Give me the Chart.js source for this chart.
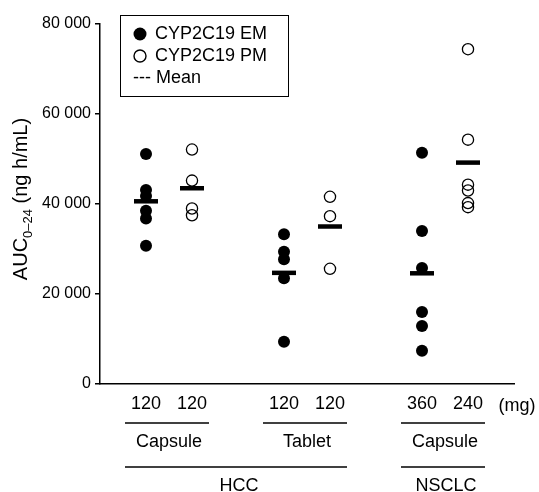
<!DOCTYPE html>
<html>
<head>
<meta charset="utf-8">
<script src="https://cdn.jsdelivr.net/npm/chart.js@4.4.1/dist/chart.umd.min.js"></script>
<style>
    html, body { margin: 0; padding: 0; background: #fff; }
    #wrap { width: 539px; height: 492px; }
</style>
</head>
<body>
<div id="wrap"><canvas id="auc" width="539" height="492"></canvas></div>
<script>
// x positions of the six dose columns (gaps between formulation groups)
const columnPositions = [1, 2, 4, 5, 7, 8];
const doseLabels = ['120', '120', '120', '120', '360', '240'];
const formulationLabels = ['Capsule', 'Tablet', 'Capsule'];
const tumorLabels = ['HCC', 'NSCLC'];
const yTicks = [0, 20000, 40000, 60000, 80000];

// CYP2C19 EM (filled), per column 1, 3, 5
const emHccCapsule = [51100, 43100, 41800, 38500, 36800, 30700];
const emHccTablet = [33300, 29400, 27700, 23500, 9400];
const emNsclcCapsule = [51400, 34000, 25800, 16000, 12900, 7400];

// CYP2C19 PM (open), per column 2, 4, 6
const pmHccCapsule = [52100, 45200, 39000, 37500];
const pmHccTablet = [41600, 37300, 25600];
const pmNsclcCapsule = [74400, 54300, 44300, 43000, 40200, 39300];

// mean bars, one per column
const meanValues = [40600, 43500, 24700, 35000, 24600, 49200];

const FONT = '"Liberation Sans", Arial, Helvetica, sans-serif';

function spaced(v) {
    return String(v).replace(/\B(?=(\d{3})+(?!\d))/g, ' ');
}

function toPoints(x, values) {
    return values.map(v => ({ x: x, y: v }));
}

const emPoints = [
    ...toPoints(columnPositions[0], emHccCapsule),
    ...toPoints(columnPositions[2], emHccTablet),
    ...toPoints(columnPositions[4], emNsclcCapsule)
];
const pmPoints = [
    ...toPoints(columnPositions[1], pmHccCapsule),
    ...toPoints(columnPositions[3], pmHccTablet),
    ...toPoints(columnPositions[5], pmNsclcCapsule)
];
const meanPoints = meanValues.map((v, i) => ({ x: columnPositions[i], y: v }));

// boxed legend in the upper left of the plot
const boxLegend = {
    id: 'boxLegend',
    afterDraw(chart) {
        const ctx = chart.ctx;
        const ds = chart.data.datasets;
        ctx.save();
        ctx.strokeStyle = '#000';
        ctx.lineWidth = 1;
        ctx.strokeRect(120.5, 15.5, 168, 81);
        ctx.font = '18px ' + FONT;
        ctx.fillStyle = '#000';
        ctx.textBaseline = 'middle';
        ctx.textAlign = 'left';

        ctx.beginPath();
        ctx.arc(140, 34, 6.5, 0, Math.PI * 2);
        ctx.fill();
        ctx.fillText(ds[0].label, 155, 34);

        ctx.beginPath();
        ctx.lineWidth = 1.4;
        ctx.arc(140, 56, 6, 0, Math.PI * 2);
        ctx.stroke();
        ctx.fillText(ds[1].label, 155, 56);

        ctx.fillText('--- ' + ds[2].label, 133, 78);
        ctx.restore();
    }
};

// y title with subscript
const yTitle = {
    id: 'yTitle',
    afterDraw(chart) {
        const ctx = chart.ctx;
        const big = '20px ' + FONT;
        const small = '13px ' + FONT;
        const parts = [['AUC', big, 0], ['0\u201324', small, 5], [' (ng h/mL)', big, 0]];
        ctx.save();
        let total = 0;
        parts.forEach(p => { ctx.font = p[1]; total += ctx.measureText(p[0]).width; });
        ctx.translate(27, 199);
        ctx.rotate(-Math.PI / 2);
        ctx.fillStyle = '#000';
        ctx.textBaseline = 'alphabetic';
        let x = -total / 2;
        parts.forEach(p => {
            ctx.font = p[1];
            ctx.fillText(p[0], x, p[2]);
            x += ctx.measureText(p[0]).width;
        });
        ctx.restore();
    }
};

// brackets and group names under the dose labels
const groupAxis = {
    id: 'groupAxis',
    afterDraw(chart) {
        const ctx = chart.ctx;
        const xs = chart.scales.x;
        const half = 42;
        const centers = [0, 2, 4].map(i =>
            (xs.getPixelForValue(columnPositions[i]) + xs.getPixelForValue(columnPositions[i + 1])) / 2 - 2);

        ctx.save();
        ctx.strokeStyle = '#000';
        ctx.fillStyle = '#000';
        ctx.lineWidth = 1.5;
        ctx.font = '18px ' + FONT;
        ctx.textAlign = 'center';
        ctx.textBaseline = 'alphabetic';

        centers.forEach((c, i) => {
            ctx.beginPath();
            ctx.moveTo(c - half, 423);
            ctx.lineTo(c + half, 423);
            ctx.stroke();
            ctx.fillText(formulationLabels[i], c + 2, 447);
        });

        const spans = [[centers[0] - half, centers[1] + half], [centers[2] - half, centers[2] + half]];
        spans.forEach((s, i) => {
            ctx.beginPath();
            ctx.moveTo(s[0], 467);
            ctx.lineTo(s[1], 467);
            ctx.stroke();
            ctx.fillText(tumorLabels[i], (s[0] + s[1]) / 2 + 3, 491);
        });

        ctx.fillText('(mg)', 517, 411);
        ctx.restore();
    }
};

Chart.defaults.font.family = FONT;
Chart.defaults.color = '#000';

new Chart(document.getElementById('auc'), {
    type: 'scatter',
    data: {
        datasets: [
            {
                label: 'CYP2C19 EM',
                data: emPoints,
                pointStyle: 'circle',
                pointRadius: 6,
                pointBorderWidth: 0,
                backgroundColor: '#000',
                borderColor: '#000'
            },
            {
                label: 'CYP2C19 PM',
                data: pmPoints,
                pointStyle: 'circle',
                pointRadius: 5.6,
                pointBorderWidth: 1.3,
                backgroundColor: 'rgba(0,0,0,0)',
                borderColor: '#000'
            },
            {
                label: 'Mean',
                data: meanPoints,
                pointStyle: 'line',
                pointRadius: 12,
                pointBorderWidth: 4.5,
                borderColor: '#000',
                backgroundColor: '#000'
            }
        ]
    },
    options: {
        responsive: false,
        animation: false,
        layout: { padding: { top: 24, right: 25, left: 0, bottom: 0 } },
        plugins: {
            legend: { display: false },
            tooltip: { enabled: false }
        },
        scales: {
            x: {
                type: 'linear',
                min: 0,
                max: 9,
                afterBuildTicks: scale => { scale.ticks = columnPositions.map(v => ({ value: v })); },
                afterFit: scale => { scale.height = 108; },
                ticks: {
                    autoSkip: false,
                    maxRotation: 0,
                    padding: 9,
                    font: { size: 18 },
                    callback: v => doseLabels[columnPositions.indexOf(v)]
                },
                grid: { display: true, drawOnChartArea: false, drawTicks: false },
                border: { display: true, color: '#000', width: 1.5 }
            },
            y: {
                min: 0,
                max: 80000,
                afterBuildTicks: scale => { scale.ticks = yTicks.map(v => ({ value: v })); },
                afterFit: scale => { scale.width = 100; },
                ticks: {
                    padding: 4,
                    font: { size: 16 },
                    callback: v => spaced(v)
                },
                grid: { drawOnChartArea: false, drawTicks: true, tickLength: 5, color: '#000', lineWidth: 1.5 },
                border: { display: true, color: '#000', width: 1.5 }
            }
        }
    },
    plugins: [boxLegend, yTitle, groupAxis]
});
</script>
</body>
</html>
